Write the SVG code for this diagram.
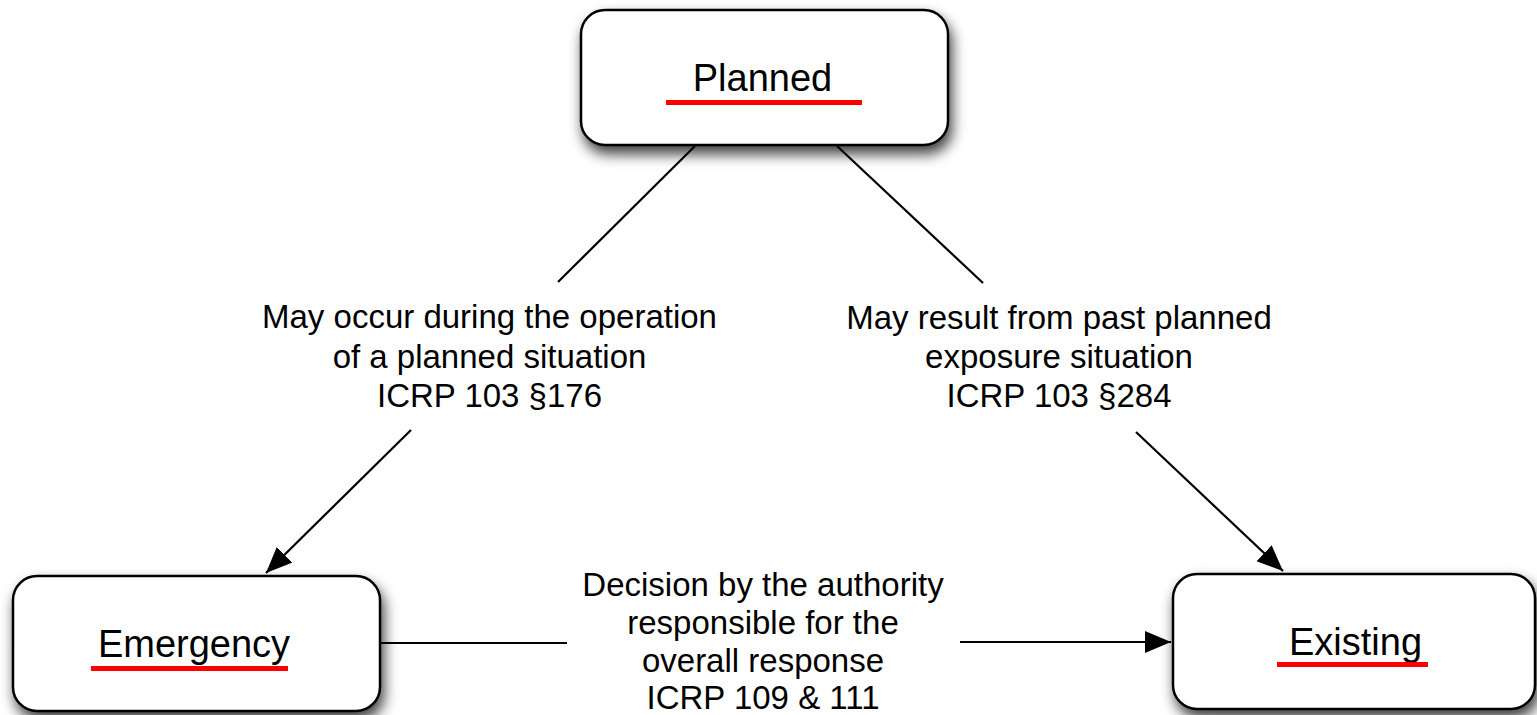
<svg xmlns="http://www.w3.org/2000/svg" width="1537" height="715" viewBox="0 0 1537 715">
<defs>
<filter id="shadow" x="-20%" y="-30%" width="140%" height="180%">
<feDropShadow dx="3" dy="8" stdDeviation="7" flood-color="#000" flood-opacity="0.75"/>
</filter>
<marker id="arrow" markerUnits="userSpaceOnUse" markerWidth="30" markerHeight="24" refX="26" refY="11" orient="auto">
<path d="M0,0 L26,11 L0,22 Z" fill="#000"/>
</marker>
<style>
.box{fill:#fff;stroke:#000;stroke-width:2.5;filter:url(#shadow)}
.title{font-family:"Liberation Sans",Arial,sans-serif;font-size:38px;fill:#000;text-anchor:middle}
.ul{fill:#f00}
.lbl{font-family:"Liberation Sans",Arial,sans-serif;font-size:33px;fill:#000;text-anchor:middle}
.edge{stroke:#000;stroke-width:2.2;fill:none}
</style>
</defs>
<rect width="1537" height="715" fill="#fff"/>
<g id="connectors">
<line class="edge" x1="695" y1="146" x2="558" y2="282"/>
<line class="edge" x1="411" y1="430" x2="266" y2="573" marker-end="url(#arrow)"/>
<line class="edge" x1="837" y1="146" x2="983" y2="283"/>
<line class="edge" x1="1136" y1="432" x2="1283" y2="571" marker-end="url(#arrow)"/>
<line class="edge" x1="380" y1="643" x2="567" y2="643"/>
<line class="edge" x1="960" y1="642" x2="1171" y2="642" marker-end="url(#arrow)"/>
</g>
<g id="label-left">
<text class="lbl" x="489.5" y="328">May occur during the operation</text>
<text class="lbl" x="489.5" y="368">of a planned situation</text>
<text class="lbl" x="489.5" y="407">ICRP 103 §176</text>
</g>
<g id="label-right">
<text class="lbl" x="1059" y="329">May result from past planned</text>
<text class="lbl" x="1059" y="368">exposure situation</text>
<text class="lbl" x="1059" y="407">ICRP 103 §284</text>
</g>
<g id="label-bottom">
<text class="lbl" x="763" y="596">Decision by the authority</text>
<text class="lbl" x="763" y="634">responsible for the</text>
<text class="lbl" x="763" y="672">overall response</text>
<text class="lbl" x="763" y="709">ICRP 109 &amp; 111</text>
</g>
<g id="node-planned">
<rect class="box" x="581" y="10" width="367" height="135" rx="24"/>
<text class="title" x="762.5" y="91">Planned</text>
<rect class="ul" x="666" y="100" width="196" height="5"/>
</g>
<g id="node-emergency">
<rect class="box" x="13" y="576" width="367" height="135" rx="24"/>
<text class="title" x="194" y="657">Emergency</text>
<rect class="ul" x="91" y="666" width="197" height="5"/>
</g>
<g id="node-existing">
<rect class="box" x="1173" y="574" width="362" height="135" rx="24"/>
<text class="title" x="1355.5" y="655">Existing</text>
<rect class="ul" x="1277" y="662" width="151" height="5"/>
</g>
</svg>
